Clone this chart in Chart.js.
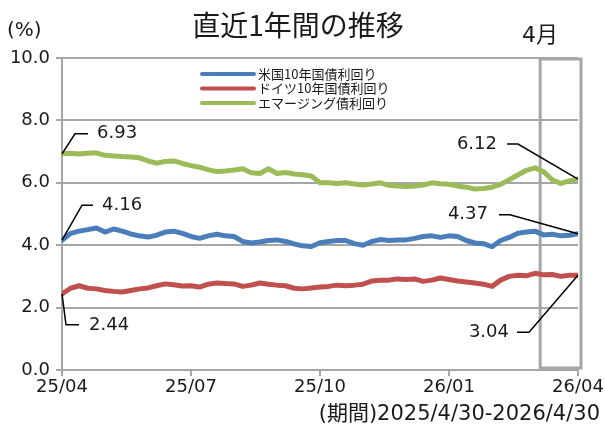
<!DOCTYPE html>
<html lang="ja">
  <head>
    <meta charset="UTF-8" />
    <title>直近1年間の推移</title>
    <script src="https://cdn.jsdelivr.net/npm/chart.js@4/dist/chart.umd.min.js"></script>
    <style>
      html, body { margin: 0; padding: 0; background: #fff; }
      #wrap { width: 605px; height: 428px; position: relative; }
    </style>
  </head>
  <body>
    <div id="wrap"><canvas id="chart"></canvas></div>

    <script>
      // 目盛りラベル（3か月ごと）
      const xTickLabels = ["25/04", "25/07", "25/10", "26/01", "26/04"];
      const seriesNames = ["米国10年国債利回り", "ドイツ10年国債利回り", "エマージング債利回り"];

      // 約6日ごとの読み取り値（%）
      const usYield = [
        4.16, 4.38, 4.45, 4.50, 4.55, 4.42, 4.52, 4.45, 4.36, 4.30,
        4.26, 4.32, 4.42, 4.45, 4.38, 4.28, 4.22, 4.30, 4.35, 4.30,
        4.28, 4.12, 4.07, 4.10, 4.15, 4.17, 4.12, 4.04, 3.98, 3.96,
        4.08, 4.12, 4.15, 4.15, 4.05, 4.00, 4.12, 4.18, 4.15, 4.17,
        4.17, 4.22, 4.28, 4.30, 4.25, 4.30, 4.28, 4.15, 4.07, 4.05,
        3.95, 4.15, 4.25, 4.38, 4.42, 4.45, 4.33, 4.35, 4.30, 4.32,
        4.37
      ];
      const deYield = [
        2.44, 2.62, 2.70, 2.62, 2.60, 2.55, 2.52, 2.50, 2.55, 2.60,
        2.63, 2.70, 2.76, 2.73, 2.69, 2.70, 2.66, 2.75, 2.79, 2.77,
        2.76, 2.68, 2.72, 2.79, 2.75, 2.72, 2.70, 2.62, 2.60, 2.63,
        2.66, 2.68, 2.72, 2.70, 2.72, 2.75, 2.85, 2.88, 2.88, 2.92,
        2.90, 2.92, 2.84, 2.88, 2.95, 2.90, 2.85, 2.82, 2.79, 2.75,
        2.68, 2.88, 3.00, 3.04, 3.02, 3.10, 3.05, 3.06, 3.00, 3.04,
        3.04
      ];
      const emYield = [
        6.93, 6.95, 6.92, 6.95, 6.96, 6.88, 6.86, 6.84, 6.83, 6.80,
        6.70, 6.63, 6.68, 6.70, 6.62, 6.55, 6.50, 6.42, 6.36, 6.38,
        6.41, 6.45, 6.32, 6.30, 6.45, 6.30, 6.33, 6.28, 6.26, 6.22,
        6.00, 6.00, 5.98, 6.00, 5.96, 5.93, 5.96, 6.00, 5.92, 5.90,
        5.88, 5.90, 5.93, 6.00, 5.97, 5.95, 5.90, 5.86, 5.80, 5.82,
        5.86, 5.95, 6.10, 6.25, 6.40, 6.48, 6.35, 6.10, 5.98, 6.06,
        6.12
      ];

      const FONT = "'Noto Sans CJK JP', 'Noto Sans', sans-serif";
      const NUMFONT = "'DejaVu Sans', 'Noto Sans CJK JP', sans-serif";
      const GRID = "#a6a6a6";
      const colors = ["#4a7ebb", "#c0504d", "#9bbb59"];

      // x は 0〜12（か月）
      const toPoints = (arr) => arr.map((v, i) => ({ x: (i * 12) / (arr.length - 1), y: v }));

      // 始点・終点ラベルの引き出し線（点からのオフセット）
      const leaders = [
        { start: [[20, -35], [31, -35], [40, -35]], end: [[-68, -19], [-79, -19], [-90, -19]] },
        { start: [[4, 31], [17, 31], [27, 31]], end: [[-49, 57], [-61, 57], [-69, 57]] },
        { start: [[13, -20], [26, -20], [35, -20]], end: [[-60, -35], [-71, -35], [-81, -35]] },
      ];

      const decorPlugin = {
        id: "decor",
        beforeDatasetsDraw(chart) {
          const { ctx, chartArea, scales } = chart;
          // 4月の枠
          const x0 = scales.x.getPixelForValue(11.12);
          const x1 = scales.x.getPixelForValue(12.07);
          ctx.save();
          ctx.strokeStyle = GRID;
          ctx.lineWidth = 3;
          ctx.strokeRect(x0, chartArea.top + 1, x1 - x0, chartArea.bottom - chartArea.top - 3);
          ctx.restore();
        },
        afterDatasetsDraw(chart) {
          const { ctx, scales } = chart;
          ctx.save();
          // タイトル等
          ctx.fillStyle = "#1a1a1a";
          ctx.textBaseline = "middle";
          ctx.font = "28px " + FONT;
          ctx.textAlign = "center";
          ctx.fillText("直近1年間の推移", 298, 25);
          ctx.font = "20px " + NUMFONT;
          ctx.textAlign = "left";
          ctx.fillText("(%)", 7, 31);
          ctx.font = "22px " + NUMFONT;
          ctx.fillText("4月", 522, 36);
          ctx.font = "21px " + NUMFONT;
          ctx.textAlign = "right";
          ctx.fillText("(期間)2025/4/30-2026/4/30", 600, 415);

          // 凡例
          ctx.font = "13px " + FONT;
          ctx.textAlign = "left";
          seriesNames.forEach((name, i) => {
            const y = 74 + i * 14.5;
            ctx.strokeStyle = colors[i];
            ctx.lineWidth = 4;
            ctx.lineCap = "round";
            ctx.beginPath();
            ctx.moveTo(202, y);
            ctx.lineTo(254, y);
            ctx.stroke();
            ctx.fillStyle = "#1a1a1a";
            ctx.fillText(name, 258, y);
          });

          // 始点・終点ラベル
          ctx.font = "18px " + NUMFONT;
          ctx.lineCap = "butt";
          chart.data.datasets.forEach((ds, i) => {
            const pts = ds.data;
            [["start", pts[0], "left"], ["end", pts[pts.length - 1], "right"]].forEach(([k, p, align]) => {
              const px = scales.x.getPixelForValue(p.x);
              const py = scales.y.getPixelForValue(p.y);
              const o = leaders[i][k];
              ctx.strokeStyle = "#000";
              ctx.lineWidth = 1.5;
              ctx.beginPath();
              ctx.moveTo(px, py);
              ctx.lineTo(px + o[0][0], py + o[0][1]);
              ctx.lineTo(px + o[1][0], py + o[1][1]);
              ctx.stroke();
              ctx.fillStyle = "#1a1a1a";
              ctx.textAlign = align;
              ctx.fillText(p.y.toFixed(2), px + o[2][0], py + o[2][1]);
            });
          });
          ctx.restore();
        },
      };

      new Chart(document.getElementById("chart"), {
        type: "line",
        data: {
          datasets: [
            { label: seriesNames[0], data: toPoints(usYield), borderColor: colors[0] },
            { label: seriesNames[1], data: toPoints(deYield), borderColor: colors[1] },
            { label: seriesNames[2], data: toPoints(emYield), borderColor: colors[2] },
          ],
        },
        options: {
          responsive: true,
          maintainAspectRatio: false,
          animation: false,
          devicePixelRatio: 1,
          layout: { padding: { top: 58, right: 27, left: 0, bottom: 0 } },
          elements: {
            line: { borderWidth: 5, tension: 0, borderJoinStyle: "round", borderCapStyle: "round" },
            point: { radius: 0 },
          },
          plugins: { legend: { display: false }, tooltip: { enabled: false } },
          scales: {
            x: {
              type: "linear",
              min: 0,
              max: 12,
              afterBuildTicks: (s) => { s.ticks = [0, 3, 6, 9, 12].map((v) => ({ value: v })); },
              afterFit: (s) => { s.height = 58; },
              ticks: {
                callback: (v) => xTickLabels[v / 3],
                color: "#1a1a1a",
                font: { size: 18, family: NUMFONT },
                maxRotation: 0,
                padding: 1,
              },
              grid: { drawOnChartArea: false, color: GRID, lineWidth: 2, tickLength: 6 },
              border: { color: GRID, width: 2 },
            },
            y: {
              min: 0,
              max: 10,
              afterFit: (s) => { s.width = 62; },
              ticks: {
                stepSize: 2,
                callback: (v) => v.toFixed(1),
                color: "#1a1a1a",
                font: { size: 18, family: NUMFONT },
                padding: 6,
              },
              grid: { color: GRID, lineWidth: 2, tickLength: 6 },
              border: { color: GRID, width: 2 },
            },
          },
        },
        plugins: [decorPlugin],
      });
    </script>
  </body>
</html>
